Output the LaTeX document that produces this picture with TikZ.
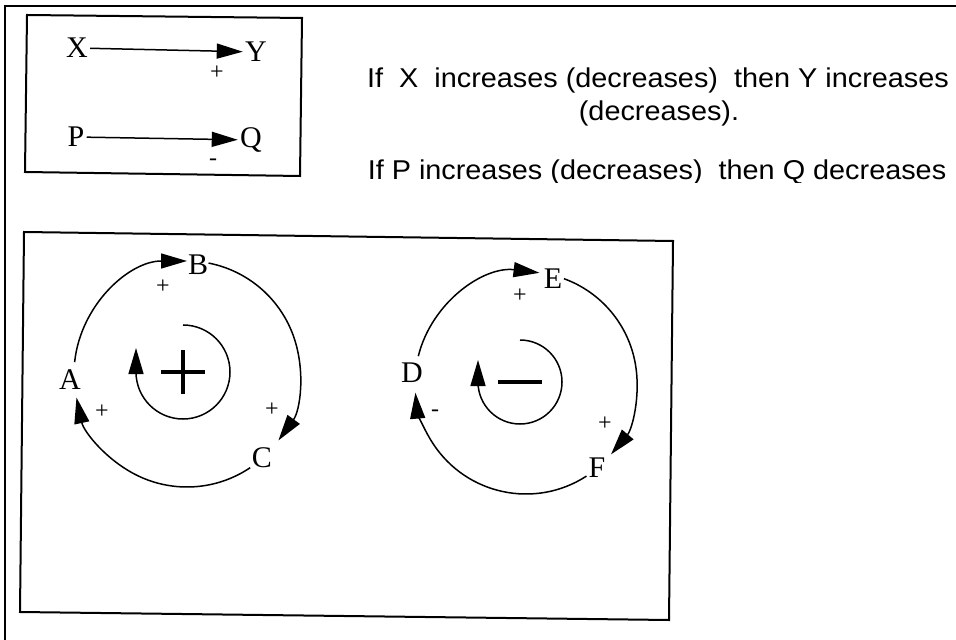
\documentclass[tikz,border=0pt]{standalone}
\usepackage{fontspec}
\setmainfont{Liberation Serif}
\newfontfamily\notefont[FakeStretch=1.06]{Liberation Sans}
\usetikzlibrary{arrows.meta}

\begin{document}
\begin{tikzpicture}[x=0.5pt,y=0.5pt,
  var/.style={inner sep=1pt,font=\fontsize{15}{17}\selectfont},
  sign/.style={inner sep=0pt,font=\fontsize{12}{13}\selectfont},
  note/.style={anchor=base,inner sep=0pt,font=\notefont\fontsize{13.6}{16}\selectfont},
  link/.style={line width=0.75pt,-{Triangle[length=13pt,width=7.5pt]}},
  frame/.style={line width=1pt},
  bigsign/.style={line width=1.6pt}]
\useasboundingbox (0,0) rectangle (956,-640);
\draw[frame] (5,-640) -- (5,-6) -- (956,-6);

% legend
\draw[frame] (27,-15) -- (302,-18) -- (300,-176) -- (25,-172) -- cycle;
\node[var] (X) at (77,-48) {X};
\node[var] (Y) at (256,-52) {Y};
\node[var] (P) at (76,-137) {P};
\node[var] (Q) at (251,-140) {Q};
\draw[link] (X) -- (Y);
\draw[link] (P) -- (Q);
\node[sign] (sxy) at (217,-73) {+};
\node[sign] (spq) at (213,-162) {-};

\node[note] (n1) at (658,-88) {If\ \ X\ \ increases (decreases)\ \ then Y increases};
\node[note] (n2) at (659,-121) {(decreases).};
\begin{scope}
\clip (340,-140) rectangle (956,-183);
\node[note] (n3) at (657,-180) {If P increases (decreases)\ \ then Q decreases};
\end{scope}

% loops
\draw[frame] (24,-232) -- (673,-241) -- (669,-620) -- (20,-612) -- cycle;

% reinforcing loop
\coordinate (c1) at (187,-374);
\coordinate (k1) at (183,-372);
\node[var] (A) at (70,-380) {A};
\node[var] (B) at (198,-265) {B};
\node[var] (C) at (262,-458) {C};
\draw[link] ([shift={(174:113)}]c1) arc[start angle=174,end angle=90,radius=113];
\draw[link] ([shift={(79:113)}]c1) arc[start angle=79,end angle=-36,radius=113];
\draw[link] ([shift={(-56:113)}]c1) arc[start angle=-56,end angle=-168,radius=113];
\node[sign] (sab) at (163,-287) {+};
\node[sign] (sbc) at (272,-410) {+};
\node[sign] (sca) at (102,-412) {+};
\draw[link] ([shift={(90:47)}]k1) arc[start angle=90,end angle=-180,radius=47] -- ++(0,24);
\draw[bigsign] ([shift={(-22,0)}]k1) -- ([shift={(22,0)}]k1);
\draw[bigsign] ([shift={(0,-22)}]k1) -- ([shift={(0,22)}]k1);

% balancing loop
\coordinate (c2) at (526,-383);
\coordinate (k2) at (520,-382);
\node[var] (D) at (412,-373) {D};
\node[var] (E) at (553,-279) {E};
\node[var] (F) at (597,-468) {F};
\draw[link] ([shift={(166:111)}]c2) arc[start angle=166,end angle=83,radius=111];
\draw[link] ([shift={(70:111)}]c2) arc[start angle=70,end angle=-40,radius=111];
\draw[link] ([shift={(-57:111)}]c2) arc[start angle=-57,end angle=-175,radius=111];
\node[sign] (sde) at (520,-296) {+};
\node[sign] (sef) at (605,-424) {+};
\node[sign] (sfd) at (435,-413) {-};
\draw[link] ([shift={(90:42)}]k2) arc[start angle=90,end angle=-180,radius=42] -- ++(0,22);
\draw[bigsign,line width=1.9pt] ([shift={(-22,0)}]k2) -- ([shift={(22,0)}]k2);
\end{tikzpicture}
\end{document}
